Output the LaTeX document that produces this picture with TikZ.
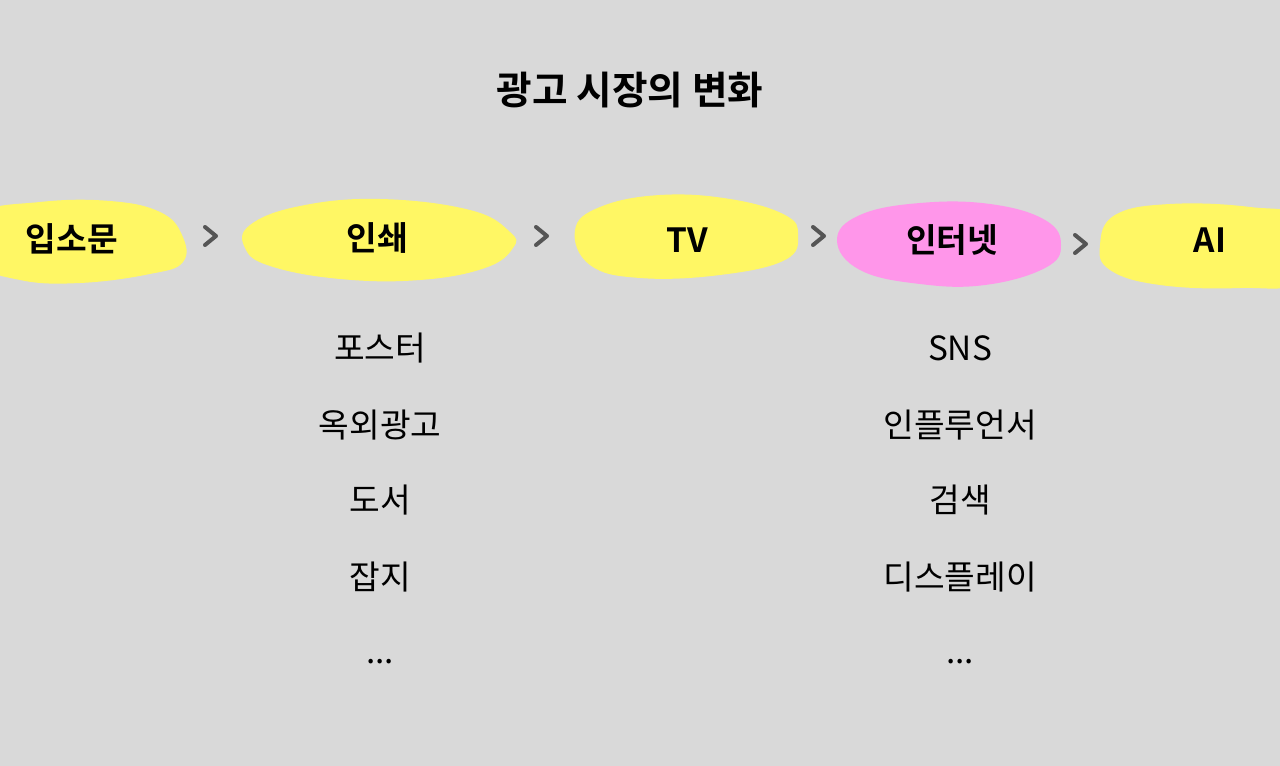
\documentclass[tikz,border=0pt]{standalone}
\usepackage{fontspec}
\newfontfamily\kb{Noto Sans CJK KR Bold}
\newfontfamily\kr{Noto Sans CJK KR}
\definecolor{bg}{HTML}{D9D9D9}
\definecolor{yel}{HTML}{FFF764}
\definecolor{pnk}{HTML}{FF96EA}
\definecolor{arr}{HTML}{555555}
\begin{document}
\begin{tikzpicture}[x=0.75pt,y=-0.75pt,
  lab/.style={font=\kb\fontsize{25}{28}\selectfont, text=black},
  item/.style={font=\kr\fontsize{25}{28}\selectfont, text=black},
  chev/.style={draw=arr, line width=3pt, line cap=round, line join=round}]
\useasboundingbox[fill=bg] (0,0) rectangle (1280,766);
\node[font=\kb\fontsize{29}{33}\selectfont] (title) at (630,90) {광고 시장의 변화};
% blobs
\fill[yel] plot[smooth cycle, tension=0.7] coordinates {(-20,215) (40,202) (110,201) (160,212) (182,235) (183,262) (150,274) (80,283) (20,280) (-20,262)};
\fill[yel] plot[smooth cycle, tension=0.7] coordinates {(250,225) (300,206) (380,199) (470,210) (510,232) (513,248) (485,268) (420,280) (340,279) (270,266) (245,248)};
\fill[yel] plot[smooth cycle, tension=0.7] coordinates {(575,230) (600,207) (660,195) (730,199) (785,215) (798,235) (785,260) (720,275) (640,278) (590,265)};
\fill[pnk] plot[smooth cycle, tension=0.7] coordinates {(837,240) (860,215) (920,203) (990,204) (1045,220) (1061,245) (1045,268) (985,285) (920,284) (860,270)};
\fill[yel] plot[smooth cycle, tension=0.7] coordinates {(1100,245) (1115,215) (1170,204) (1250,207) (1300,220) (1300,280) (1240,288) (1160,285) (1110,270)};
% labels
\node[lab] (n1) at (72,239) {입소문};
\node[lab] (n2) at (377,238) {인쇄};
\node[lab] (n3) at (687,240) {TV};
\node[lab] (n4) at (952,240) {인터넷};
\node[lab] (n5) at (1210,240) {AI};
% chevrons
\foreach \cx/\cy in {210/236, 541/236, 818/236, 1080/244}
  \draw[chev] (\cx-5,\cy-9) -- (\cx+6,\cy) -- (\cx-5,\cy+9);
% lists
\node[item] (a1) at (380,348) {포스터};
\node[item] (a2) at (380,425) {옥외광고};
\node[item] (a3) at (380,500) {도서};
\node[item] (a4) at (380,577) {잡지};
\node[item] (a5) at (380,662) {...};
\node[item] (b1) at (960,348) {SNS};
\node[item] (b2) at (960,425) {인플루언서};
\node[item] (b3) at (960,500) {검색};
\node[item] (b4) at (960,577) {디스플레이};
\node[item] (b5) at (960,662) {...};
\end{tikzpicture}
\end{document}
